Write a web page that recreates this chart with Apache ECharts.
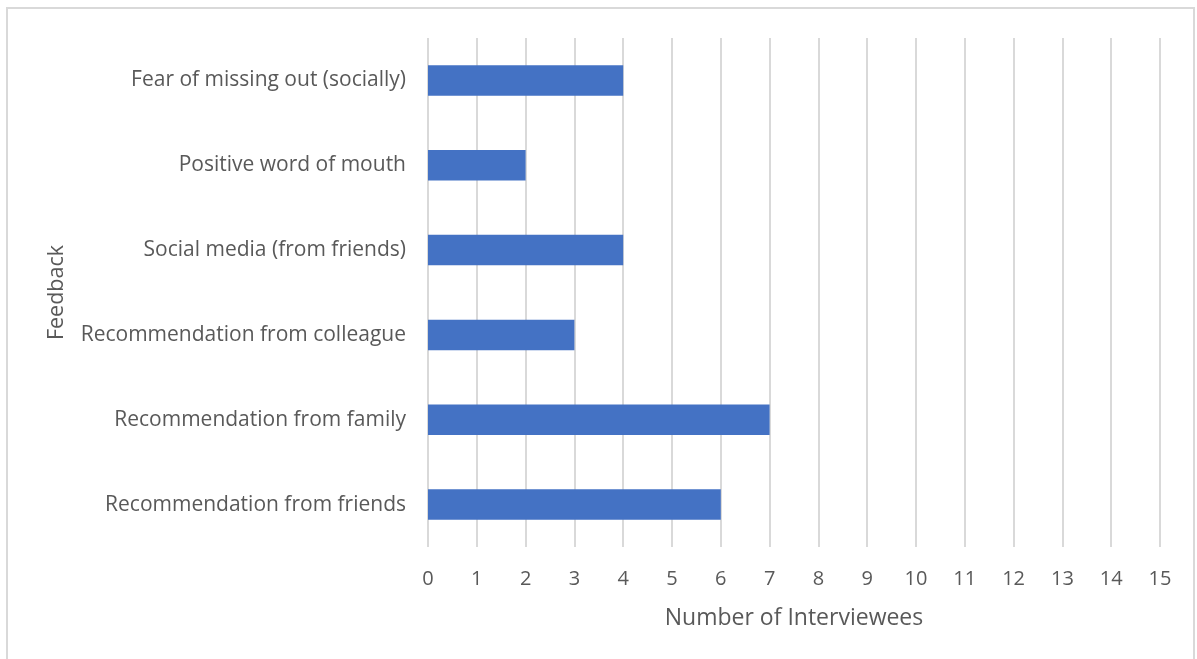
<!DOCTYPE html>
<html>
<head>
<meta charset="utf-8">
<script src="https://cdn.jsdelivr.net/npm/echarts@6/dist/echarts.min.js"></script>
<style>
  html, body { margin: 0; padding: 0; background: #fff; }
  #frame { position: absolute; left: 6px; top: 7px; width: 1189px; height: 660px; border: 2px solid #d9d9d9; box-sizing: border-box; }
  #chart { position: absolute; left: 0; top: 0; width: 1197px; height: 659px; }
</style>
</head>
<body>
<div id="frame"></div>
<div id="chart"></div>
<script>
// categories listed bottom to top (as the category axis draws them)
const categories = [
    "Recommendation from friends",
    "Recommendation from family",
    "Recommendation from colleague",
    "Social media (from friends)",
    "Positive word of mouth",
    "Fear of missing out (socially)"
];
const interviewees = [6, 7, 3, 4, 2, 4];

const FONT = "'Open Sans', sans-serif";
const TEXT = "#595959";

const chart = echarts.init(document.getElementById("chart"));

chart.setOption({
    backgroundColor: "transparent",
    animation: false,
    grid: { left: 428, right: 37, top: 38, bottom: 112, containLabel: false },
    xAxis: {
        type: "value",
        min: 0,
        max: 15,
        interval: 1,
        name: "Number of Interviewees",
        nameLocation: "middle",
        nameGap: 60,
        nameTextStyle: { color: TEXT, fontSize: 23, fontFamily: FONT },
        axisLine: { show: false },
        axisTick: { show: false },
        axisLabel: { color: TEXT, fontSize: 20, fontFamily: FONT, margin: 22 },
        splitLine: { lineStyle: { color: "#d9d9d9", width: 2 } }
    },
    yAxis: {
        type: "category",
        data: categories,
        name: "Feedback",
        nameLocation: "middle",
        nameGap: 360,
        nameRotate: 90,
        nameTextStyle: { color: TEXT, fontSize: 21.5, fontFamily: FONT },
        axisLine: { show: false },
        axisTick: { show: false },
        axisLabel: { color: TEXT, fontSize: 21, fontFamily: FONT, margin: 22, padding: [4, 0, 0, 0] }
    },
    series: [{
        type: "bar",
        data: interviewees,
        barCategoryGap: "64%",
        itemStyle: { color: "#4472C4" }
    }]
});

window.addEventListener("resize", () => chart.resize());
</script>
</body>
</html>
